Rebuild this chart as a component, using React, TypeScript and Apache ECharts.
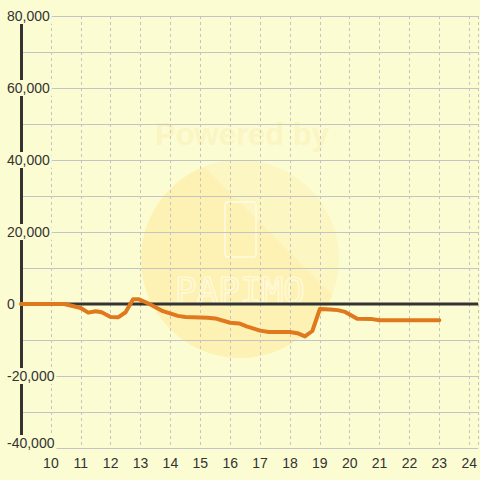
import React, { useEffect, useRef } from "react";
import * as echarts from "echarts";

const xValues = [9, 10.45, 11, 11.25, 11.5, 11.7, 12, 12.25, 12.5, 12.75, 12.95, 13.25, 13.75, 14.25, 14.5, 15.25, 15.5, 16, 16.3, 16.55, 17, 17.3, 18, 18.25, 18.5, 18.75, 19, 19.35, 19.6, 19.85, 20.25, 20.75, 21, 23];
const yValues = [0, 0, -1100, -2400, -2000, -2300, -3600, -3700, -2300, 1300, 1300, 200, -2000, -3300, -3600, -3800, -4000, -5200, -5400, -6200, -7400, -7800, -7800, -8100, -9000, -7500, -1400, -1500, -1700, -2200, -4100, -4200, -4500, -4500];
const xMin = 9;
const xMax = 24.3;
const yMin = -40000;
const yMax = 80000;

const BG = "#fcfcd2";

export default function App() {
  const ref = useRef<HTMLDivElement>(null);
  useEffect(() => {
    if (!ref.current) return;
    const chart = echarts.init(ref.current, null, { renderer: "svg" });
    const data = xValues.map((x, i) => [x, yValues[i]]);
    chart.setOption({
      animation: false,
      backgroundColor: BG,
      grid: { left: 21, right: 0, top: 16, bottom: 32, containLabel: false },
      graphic: [
        {
          type: "circle",
          z: -10,
          shape: { cx: 240, cy: 259, r: 99 },
          style: {
            fill: {
              type: "linear",
              x: 0, y: 1, x2: 1, y2: 0,
              colorStops: [
                { offset: 0, color: "#fdf2b4" },
                { offset: 0.64, color: "#fdf2b4" },
                { offset: 0.645, color: "#fcf6c2" },
                { offset: 1, color: "#fcf6c2" },
              ],
            },
          },
        },
        {
          type: "text",
          z: -9,
          x: 242,
          y: 134,
          style: {
            text: "Powered by",
            fill: "#faf5c2",
            font: "bold 31px 'Liberation Sans', Arial, sans-serif",
            align: "center",
            verticalAlign: "middle",
          },
        },
        {
          type: "rect",
          z: -9,
          shape: { x: 225, y: 202, width: 31, height: 55, r: 3 },
          style: { fill: "none", stroke: "#fffbe0", lineWidth: 1.5 },
        },
        {
          type: "text",
          z: -9,
          x: 240,
          y: 290,
          style: {
            text: "PAPIMO",
            fill: "none",
            stroke: "#fffbe0",
            lineWidth: 1.2,
            font: "36px 'DejaVu Sans Mono', monospace",
            align: "center",
            verticalAlign: "middle",
          },
        },
      ],
      xAxis: {
        type: "value",
        min: xMin,
        max: xMax,
        interval: 1,
        axisLine: { show: false, onZero: false },
        axisTick: { show: false },
        axisLabel: {
          showMinLabel: false,
          showMaxLabel: false,
          color: "#333",
          fontSize: 14,
          fontFamily: "'Liberation Sans', Arial, sans-serif",
          margin: 8,
        },
        splitLine: { show: true, lineStyle: { color: "#c4c4c4", width: 1, type: [3, 3] } },
      },
      yAxis: {
        type: "value",
        min: yMin,
        max: yMax,
        interval: 20000,
        axisLine: { show: true, onZero: false, lineStyle: { color: "#333", width: 3 } },
        axisTick: { show: false },
        minorTick: { show: false, splitNumber: 2 },
        minorSplitLine: { show: true, lineStyle: { color: "#c4c4c4", width: 1 } },
        splitLine: { show: true, lineStyle: { color: "#c4c4c4", width: 1 } },
        axisLabel: {
          color: "#333",
          fontSize: 14,
          fontFamily: "'Liberation Sans', Arial, sans-serif",
          align: "left",
          margin: 16,
          backgroundColor: BG,
          padding: [1, 2],
          formatter: (v: number) =>
            v === yMin ? "{low|" + v.toLocaleString("en-US") + "}" : v.toLocaleString("en-US"),
          rich: {
            low: {
              color: "#333",
              fontSize: 14,
              fontFamily: "'Liberation Sans', Arial, sans-serif",
              padding: [0, 0, 10, 0],
            },
          },
        },
      },
      series: [
        {
          type: "line",
          z: 1,
          data: [[xMin, 0], [xMax, 0]],
          symbol: "none",
          silent: true,
          lineStyle: { color: "#333", width: 3 },
        },
        {
          type: "line",
          z: 2,
          data,
          symbol: "none",
          lineStyle: { color: "#e0781e", width: 4, join: "round", cap: "round" },
        },
      ],
    });
    return () => chart.dispose();
  }, []);
  return <div ref={ref} style={{ width: 480, height: 480, position: "absolute", left: 0, top: 0 }} />;
}
